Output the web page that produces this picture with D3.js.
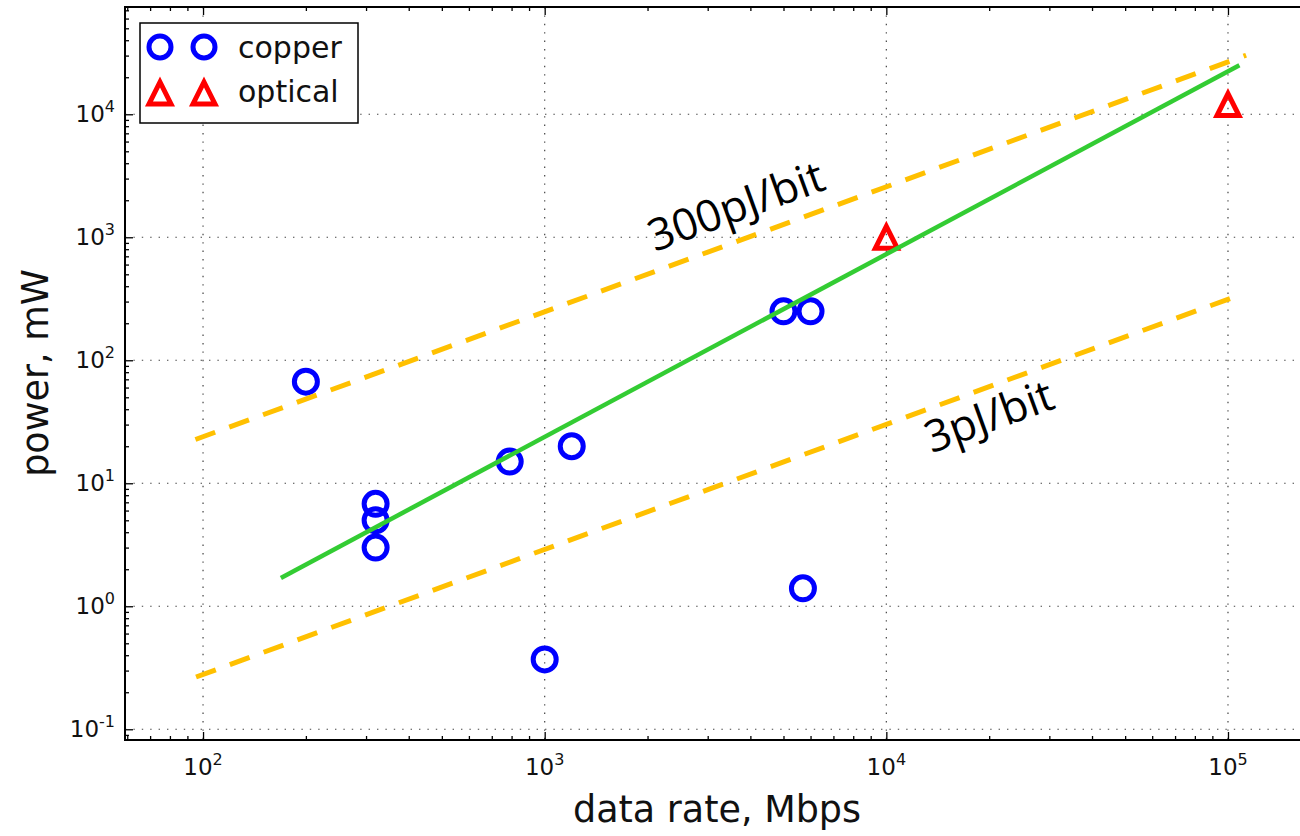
<!DOCTYPE html>
<html lang="en">
<head>
<meta charset="utf-8">
<title>power vs data rate</title>
<script src="https://cdn.jsdelivr.net/npm/d3@7"></script>
<style>
  body { margin: 0; background: #fff; }
</style>
</head>
<body>
<script>
// values
var copperRate  = [200, 320, 320, 320, 790, 1200, 1000, 5000, 6000, 5700];
var copperPower = [67, 6.8, 5, 3, 15, 20, 0.37, 250, 250, 1.4];
var opticalRate  = [10000, 100000];
var opticalPower = [1000, 12000];
var fitRate  = [169, 108000];
var fitPower = [1.7, 25000];
var hiRate  = [95, 113000];     // 300pJ/bit
var hiPower = [22.7, 30200];
var loRate  = [95.4, 108400];   // 3pJ/bit
var loPower = [0.266, 340];
var xMajor = [1e2, 1e3, 1e4, 1e5];
var yMajor = [1e-1, 1e0, 1e1, 1e2, 1e3, 1e4];

var width = 1300, height = 836;
var plotL = 125, plotR = 1310, plotT = 7, plotB = 740;

function zip(a, b) { return a.map(function(v, i) { return {r: v, p: b[i]}; }); }

var svg = d3.select("body").append("svg")
    .attr("width", width)
    .attr("height", height);

var x = d3.scaleLog().domain([59.1, 173800]).range([plotL, plotR]);
var y = d3.scaleLog().domain([0.0818, 74500]).range([plotB, plotT]);

var xMinor = x.ticks().filter(function(d) { return xMajor.indexOf(d) < 0; });
var yMinor = y.ticks().filter(function(d) { return yMajor.indexOf(d) < 0; });

// dotted grid
svg.append("g").selectAll("line").data(xMajor).enter().append("line")
    .attr("x1", function(d) { return x(d); }).attr("x2", function(d) { return x(d); })
    .attr("y1", plotT).attr("y2", plotB)
    .attr("stroke", "#444").attr("stroke-width", 1.2).attr("stroke-dasharray", "1.4,7");
svg.append("g").selectAll("line").data(yMajor).enter().append("line")
    .attr("y1", function(d) { return y(d); }).attr("y2", function(d) { return y(d); })
    .attr("x1", plotL).attr("x2", plotR)
    .attr("stroke", "#444").attr("stroke-width", 1.2).attr("stroke-dasharray", "1.4,7");

// ticks, inward on all four sides
function ticks(axis, tx, ty, vals, size) {
  var g = svg.append("g").attr("transform", "translate(" + tx + "," + ty + ")")
      .call(axis.tickValues(vals).tickSize(-size).tickFormat(""));
  g.select(".domain").remove();
  g.selectAll("text").remove();
  g.selectAll("line").attr("stroke", "#000").attr("stroke-width", 1.3);
  return g;
}
ticks(d3.axisBottom(x), 0, plotB, xMinor, 4);
ticks(d3.axisTop(x), 0, plotT, xMinor, 4);
ticks(d3.axisLeft(y), plotL, 0, yMinor, 4);
ticks(d3.axisRight(y), plotR, 0, yMinor, 4);
ticks(d3.axisTop(x), 0, plotT, xMajor, 8);
ticks(d3.axisRight(y), plotR, 0, yMajor, 8);

var gx = ticks(d3.axisBottom(x), 0, plotB, xMajor, 8);
var gy = ticks(d3.axisLeft(y), plotL, 0, yMajor, 8);

function power10(sel) {
  sel.each(function(d) {
    var t = d3.select(this);
    t.append("tspan").text("10");
    t.append("tspan").attr("dy", -10).attr("font-size", 16).text(Math.round(Math.log10(d)));
  });
}
gx.selectAll("text.lab").data(xMajor).enter().append("text")
    .attr("class", "lab")
    .attr("x", function(d) { return x(d); })
    .attr("y", 35)
    .attr("text-anchor", "middle")
    .attr("font-family", "DejaVu Sans").attr("font-size", 23).attr("fill", "#111")
    .call(power10);
gy.selectAll("text.lab").data(yMajor).enter().append("text")
    .attr("class", "lab")
    .attr("x", -10)
    .attr("y", function(d) { return y(d) + 8; })
    .attr("text-anchor", "end")
    .attr("font-family", "DejaVu Sans").attr("font-size", 23).attr("fill", "#111")
    .call(power10);

// markers
function triangle(s) { return "M0," + (-s) + "L" + s + "," + s + "L" + (-s) + "," + s + "Z"; }

svg.append("g").selectAll("circle").data(zip(copperRate, copperPower)).enter().append("circle")
    .attr("cx", function(d) { return x(d.r); })
    .attr("cy", function(d) { return y(d.p); })
    .attr("r", 11.5)
    .attr("fill", "none").attr("stroke", "#0000ff").attr("stroke-width", 5);

svg.append("g").selectAll("path").data(zip(opticalRate, opticalPower)).enter().append("path")
    .attr("transform", function(d) { return "translate(" + x(d.r) + "," + y(d.p) + ")"; })
    .attr("d", triangle(11))
    .attr("fill", "none").attr("stroke", "#ff0000").attr("stroke-width", 5)
    .attr("stroke-linejoin", "miter");

// lines
var line = d3.line().x(function(d) { return x(d.r); }).y(function(d) { return y(d.p); });

svg.append("path").datum(zip(hiRate, hiPower)).attr("d", line)
    .attr("fill", "none").attr("stroke", "#ffc000").attr("stroke-width", 5).attr("stroke-dasharray", "21,15");
svg.append("path").datum(zip(loRate, loPower)).attr("d", line)
    .attr("fill", "none").attr("stroke", "#ffc000").attr("stroke-width", 5).attr("stroke-dasharray", "21,15");
svg.append("path").datum(zip(fitRate, fitPower)).attr("d", line)
    .attr("fill", "none").attr("stroke", "#33cc33").attr("stroke-width", 4.5);

// annotations
svg.append("text")
    .attr("transform", "translate(" + x(2100) + "," + y(760) + ") rotate(-20)")
    .attr("font-family", "Open Sans").attr("font-size", 44)
    .text("300pJ/bit");
svg.append("text")
    .attr("transform", "translate(" + x(13550) + "," + y(17.5) + ") rotate(-20)")
    .attr("font-family", "Open Sans").attr("font-size", 44)
    .text("3pJ/bit");

// frame
svg.append("rect")
    .attr("x", plotL).attr("y", plotT)
    .attr("width", plotR - plotL).attr("height", plotB - plotT)
    .attr("fill", "none").attr("stroke", "#000").attr("stroke-width", 2);

// legend
var leg = svg.append("g");
leg.append("rect").attr("x", 140).attr("y", 23).attr("width", 218).attr("height", 100)
    .attr("fill", "#fff").attr("stroke", "#000").attr("stroke-width", 1.5);
leg.selectAll("circle").data([160, 204]).enter().append("circle")
    .attr("cx", function(d) { return d; }).attr("cy", 47).attr("r", 11)
    .attr("fill", "none").attr("stroke", "#0000ff").attr("stroke-width", 5);
leg.selectAll("path").data([160, 204]).enter().append("path")
    .attr("transform", function(d) { return "translate(" + d + ",93)"; })
    .attr("d", triangle(11))
    .attr("fill", "none").attr("stroke", "#ff0000").attr("stroke-width", 5);
leg.selectAll("text").data(["copper", "optical"]).enter().append("text")
    .attr("x", 238).attr("y", function(d, i) { return 58 + i * 44; })
    .attr("font-family", "DejaVu Sans").attr("font-size", 30).attr("fill", "#111")
    .text(function(d) { return d; });

// axis titles
svg.append("text").attr("x", 717).attr("y", 822).attr("text-anchor", "middle")
    .attr("font-family", "DejaVu Sans").attr("font-size", 36.5).attr("fill", "#111")
    .text("data rate, Mbps");
svg.append("text").attr("transform", "translate(48,373) rotate(-90)").attr("text-anchor", "middle")
    .attr("font-family", "DejaVu Sans").attr("font-size", 36.5).attr("fill", "#111")
    .text("power, mW");
</script>
</body>
</html>
